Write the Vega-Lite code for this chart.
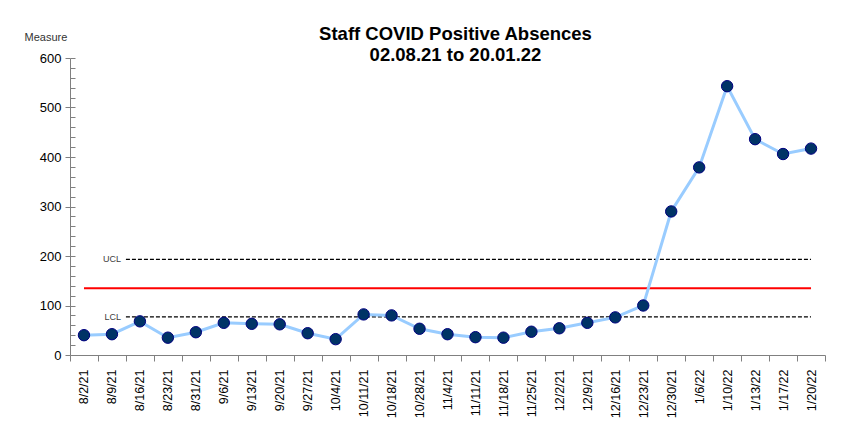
{
  "$schema": "https://vega.github.io/schema/vega-lite/v6.json",
  "width": 755,
  "height": 297,
  "autosize": "none",
  "padding": {"left": 70, "top": 58, "right": 17, "bottom": 67},
  "background": "white",
  "config": {"view": {"stroke": null}, "font": "Liberation Sans"},
  "title": {
    "text": ["Staff COVID Positive Absences", "02.08.21 to 20.01.22"],
    "fontSize": 18.5,
    "fontWeight": "bold",
    "font": "Liberation Sans",
    "color": "#000000",
    "anchor": "middle",
    "frame": "group",
    "dx": 8,
    "dy": 33,
    "offset": 0,
    "lineHeight": 21
  },
  "datasets": {
    "series": [
      {"date": "8/2/21", "value": 40},
      {"date": "8/9/21", "value": 42},
      {"date": "8/16/21", "value": 68},
      {"date": "8/23/21", "value": 35},
      {"date": "8/31/21", "value": 46},
      {"date": "9/6/21", "value": 65},
      {"date": "9/13/21", "value": 63},
      {"date": "9/20/21", "value": 62},
      {"date": "9/27/21", "value": 44},
      {"date": "10/4/21", "value": 32},
      {"date": "10/11/21", "value": 82},
      {"date": "10/18/21", "value": 80},
      {"date": "10/28/21", "value": 53},
      {"date": "11/4/21", "value": 42},
      {"date": "11/11/21", "value": 36},
      {"date": "11/18/21", "value": 35},
      {"date": "11/25/21", "value": 47},
      {"date": "12/2/21", "value": 54},
      {"date": "12/9/21", "value": 65},
      {"date": "12/16/21", "value": 76},
      {"date": "12/23/21", "value": 100},
      {"date": "12/30/21", "value": 290},
      {"date": "1/6/22", "value": 379},
      {"date": "1/10/22", "value": 543},
      {"date": "1/13/22", "value": 436},
      {"date": "1/17/22", "value": 406},
      {"date": "1/20/22", "value": 417}
    ],
    "mean": [{"start": "8/2/21", "end": "1/20/22", "value": 135}],
    "limits": [
      {"start": "8/16/21", "end": "1/20/22", "value": 193, "label": "UCL"},
      {"start": "8/16/21", "end": "1/20/22", "value": 77, "label": "LCL"}
    ]
  },
  "resolve": {"scale": {"y": "shared", "x": "shared"}, "axis": {"y": "independent"}},
  "layer": [
    {
      "data": {"name": "mean"},
      "mark": {"type": "rule", "color": "#FF0000", "strokeWidth": 2},
      "encoding": {
        "x": {
          "field": "start", "type": "nominal", "sort": null,
          "scale": {"domain": ["8/2/21","8/9/21","8/16/21","8/23/21","8/31/21","9/6/21","9/13/21","9/20/21","9/27/21","10/4/21","10/11/21","10/18/21","10/28/21","11/4/21","11/11/21","11/18/21","11/25/21","12/2/21","12/9/21","12/16/21","12/23/21","12/30/21","1/6/22","1/10/22","1/13/22","1/17/22","1/20/22"], "paddingInner": 0, "paddingOuter": 0},
          "axis": {
            "title": null,
            "labelAngle": -90,
            "labelFontSize": 12.5,
            "labelColor": "#000000",
            "labelPadding": 8,
            "tickBand": "extent",
            "tickSize": 6,
            "tickColor": "#808080",
            "domainColor": "#808080",
            "labelFont": "Liberation Sans"
          }
        },
        "x2": {"field": "end"},
        "y": {
          "field": "value", "type": "quantitative",
          "scale": {"domain": [0, 600], "nice": false},
          "axis": {
            "title": "Measure",
            "titleAngle": 0,
            "titleX": -46,
            "titleY": -21,
            "titleAlign": "left",
            "titleBaseline": "middle",
            "titleFontSize": 11,
            "titleFontWeight": "normal",
            "titleColor": "#333333",
            "values": [0, 100, 200, 300, 400, 500, 600],
            "labelFontSize": 13,
            "labelColor": "#000000",
            "labelPadding": 4,
            "tickSize": 5,
            "tickColor": "#808080",
            "domainColor": "#808080",
            "grid": false
          }
        }
      }
    },
    {
      "data": {"name": "limits"},
      "mark": {"type": "rule", "color": "#000000", "strokeWidth": 1.2, "strokeDash": [4, 2]},
      "encoding": {
        "x": {"field": "start", "type": "nominal", "sort": null, "bandPosition": 0},
        "x2": {"field": "end", "bandPosition": 0.5},
        "y": {
          "field": "value", "type": "quantitative",
          "axis": {
            "orient": "left",
            "title": null,
            "labels": false,
            "domain": false,
            "values": [0,20,40,60,80,100,120,140,160,180,200,220,240,260,280,300,320,340,360,380,400,420,440,460,480,500,520,540,560,580,600],
            "tickSize": -5,
            "tickColor": "#808080",
            "grid": false
          }
        }
      }
    },
    {
      "data": {"name": "limits"},
      "mark": {"type": "text", "align": "right", "baseline": "middle", "dx": -5, "fontSize": 9, "color": "#404040"},
      "encoding": {
        "x": {"field": "start", "type": "nominal", "sort": null, "bandPosition": 0},
        "y": {"field": "value", "type": "quantitative", "axis": null},
        "text": {"field": "label"}
      }
    },
    {
      "data": {"name": "series"},
      "mark": {"type": "line", "color": "#99CCFF", "strokeWidth": 3},
      "encoding": {
        "x": {"field": "date", "type": "nominal", "sort": null},
        "y": {"field": "value", "type": "quantitative", "axis": null}
      }
    },
    {
      "data": {"name": "series"},
      "mark": {"type": "point", "filled": true, "fill": "#003366", "stroke": "#000080", "strokeWidth": 1, "size": 130, "opacity": 1, "shape": "circle"},
      "encoding": {
        "x": {"field": "date", "type": "nominal", "sort": null},
        "y": {"field": "value", "type": "quantitative", "axis": null}
      }
    }
  ]
}
